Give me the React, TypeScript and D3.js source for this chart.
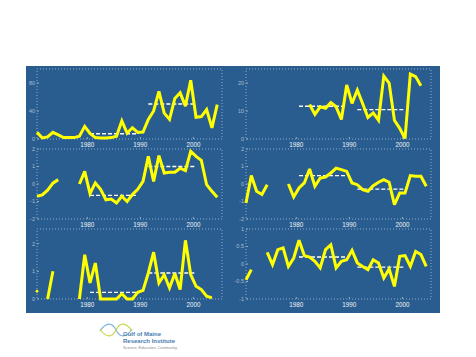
import React from "react";
import * as d3 from "d3";

const years = [1970,1971,1972,1973,1974,1975,1976,1977,1978,1979,1980,1981,1982,1983,1984,1985,1986,1987,1988,1989,1990,1991,1992,1993,1994,1995,1996,1997,1998,1999,2000,2001,2002,2003,2004];

const seriesA = [9.5,1.5,3,9.5,6,2,2,2,4,18,8,2,1.5,1.5,2,4,26,8.5,16,9.5,10,28,40,68,37,28,58,66,47,84,31,32,42,16,49];
const seriesB = [null,null,null,null,null,null,null,null,null,null,null,null,12.3,8.8,11.5,11,13,11.5,7,19.3,12.7,17.5,12.7,7.7,9.3,6.7,22.5,20,6.7,3.8,0.2,23.2,22.3,19,null];
const seriesC = [-0.7,-0.62,-0.35,0.05,0.25,null,null,null,0,0.72,-0.55,0.06,-0.3,-0.9,-0.86,-1.08,-0.7,-1.0,-0.6,-0.3,0.15,1.58,0.15,1.62,0.63,0.67,0.67,0.9,0.76,1.87,1.58,1.35,-0.04,-0.42,-0.76];
const seriesD = [-1.09,0.48,-0.42,-0.6,-0.04,null,null,null,0,-0.74,-0.23,0.06,0.86,-0.13,0.34,0.4,0.63,0.91,0.82,0.72,0.06,-0.04,-0.32,-0.42,-0.1,0.1,0.25,0.1,-1.18,-0.51,-0.51,0.48,0.44,0.44,-0.13];
const seriesE = [0.28,null,0,1.0,null,null,null,null,0,1.6,0.58,1.3,0,0,0,0,0.19,0,0,0.24,0.31,0.94,1.69,0.58,0.88,0.4,0.92,0.34,2.12,0.88,0.46,0.34,0.1,0.04,null];
const seriesF = [-0.45,-0.16,null,null,0.33,-0.02,0.41,0.46,-0.07,0.17,0.68,0.24,0.2,0.08,-0.11,0.41,0.55,-0.11,0.08,0.12,0.39,0.03,-0.07,-0.16,0.12,0.03,-0.4,-0.14,-0.64,0.22,0.24,-0.07,0.36,0.27,-0.07];

const periods = [[1980, 1989], [1991, 2000]];
const meansA = [7.6, 50];
const meansB = [11.7, 10.5];
const meansC = [-0.65, 1.0];
const meansD = [0.48, -0.29];
const meansE = [0.24, 0.94];
const meansF = [0.2, -0.09];

const xTicks = [1980, 1990, 2000];
const ticksA = [0, 40, 80];
const ticksB = [0, 10, 20];
const ticksC = [-2, -1, 0, 1, 2];
const ticksD = [-2, -1, 0, 1, 2];
const ticksE = [0, 1, 2];
const ticksF = [-1, -0.5, 0, 0.5, 1];

const domainA = [0, 100];
const domainB = [0, 25];
const domainC = [-2, 2];
const domainD = [-2, 2];
const domainE = [0, 2.53];
const domainF = [-1, 1];

const panels = [
  { values: seriesA, means: meansA, ticks: ticksA, domain: domainA, col: 0, row: 0 },
  { values: seriesB, means: meansB, ticks: ticksB, domain: domainB, col: 1, row: 0 },
  { values: seriesC, means: meansC, ticks: ticksC, domain: domainC, col: 0, row: 1 },
  { values: seriesD, means: meansD, ticks: ticksD, domain: domainD, col: 1, row: 1 },
  { values: seriesE, means: meansE, ticks: ticksE, domain: domainE, col: 0, row: 2 },
  { values: seriesF, means: meansF, ticks: ticksF, domain: domainF, col: 1, row: 2 },
];

const W = 476, H = 357;
const colX = [37, 246];
const rowY = [69, 149, 229];
const PW = 185, PH = 70;
const BG = "#2a5d8f";
const FRAME = "#8eacc9";

function Panel({ p }: { p: any }) {
  const x0 = colX[p.col];
  const y0 = rowY[p.row];
  const x = d3.scaleLinear().domain([1970.5, 2005.4]).range([x0, x0 + PW]);
  const y = d3.scaleLinear().domain(p.domain).range([y0 + PH, y0]);
  const pts = years.map((yr, i) => ({ yr, v: p.values[i] }));
  const line = d3
    .line<any>()
    .defined((d) => d.v != null)
    .x((d) => x(d.yr + 0.5))
    .y((d) => y(d.v));
  const isolated = pts.filter(
    (d, i) => d.v != null && (i === 0 || pts[i - 1].v == null) && (i === pts.length - 1 || pts[i + 1].v == null)
  );
  return (
    <g>
      <rect x={x0} y={y0} width={PW} height={PH} fill="none" stroke={FRAME} strokeWidth={1} strokeDasharray="1 2" />
      {p.ticks.map((t: number) => (
        <g key={"yt" + t}>
          <line x1={x0} x2={x0 + 2} y1={y(t)} y2={y(t)} stroke={FRAME} strokeWidth={1} />
          <text x={x0 - 2} y={y(t)} dy="0.35em" textAnchor="end" fontSize={5.5} fill="#a8bfd6" fontFamily="Liberation Sans, Arial, sans-serif">
            {String(t)}
          </text>
        </g>
      ))}
      {xTicks.map((t) => (
        <g key={"xt" + t}>
          <line x1={x(t)} x2={x(t)} y1={y0 + PH} y2={y0 + PH - 2} stroke={FRAME} strokeWidth={1} />
          <text x={x(t)} y={y0 + PH + 7.5} textAnchor="middle" fontSize={8} fill="#eef3f8" fontFamily="Liberation Sans, Arial, sans-serif" textLength={14} lengthAdjust="spacingAndGlyphs">
            {String(t)}
          </text>
        </g>
      ))}
      {periods.map((per, k) => (
        <line key={"m" + k} x1={x(per[0] + 0.5)} x2={x(per[1] + 0.5)} y1={y(p.means[k])} y2={y(p.means[k])} stroke="#ffffff" strokeWidth={1.4} strokeDasharray="4 2" />
      ))}
      <path d={line(pts) || ""} fill="none" stroke="#ffff00" strokeWidth={3} strokeLinejoin="miter" strokeMiterlimit={3} />
      {isolated.map((d) => (
        <circle key={"iso" + d.yr} cx={x(d.yr + 0.5)} cy={y(d.v)} r={1.4} fill="#ffff00" />
      ))}
    </g>
  );
}

export default function App() {
  return (
    <svg width={W} height={H} style={{ position: "absolute", left: 0, top: 0, background: "#ffffff" }}>
      <rect x={26} y={66} width={414} height={247} fill={BG} />
      {panels.map((p, i) => (
        <Panel key={i} p={p} />
      ))}
      <g>
        <path d="M100,331 C106,322 112,322 116,330 C120,338 126,338 132,329" fill="none" stroke="#7fb3d9" strokeWidth={1.2} />
        <path d="M100,329 C106,338 112,338 116,330 C120,322 126,322 132,331" fill="none" stroke="#c8d84a" strokeWidth={1.2} />
        <text x={123} y={336} fontSize={6} fontWeight="bold" fill="#4a7db0" fontFamily="Liberation Sans, Arial, sans-serif">Gulf of Maine</text>
        <text x={123} y={342.5} fontSize={6} fontWeight="bold" fill="#4a7db0" fontFamily="Liberation Sans, Arial, sans-serif">Research Institute</text>
        <text x={123} y={349} fontSize={3.8} fill="#8a8a8a" fontFamily="Liberation Sans, Arial, sans-serif">Science. Education. Community.</text>
      </g>
    </svg>
  );
}
